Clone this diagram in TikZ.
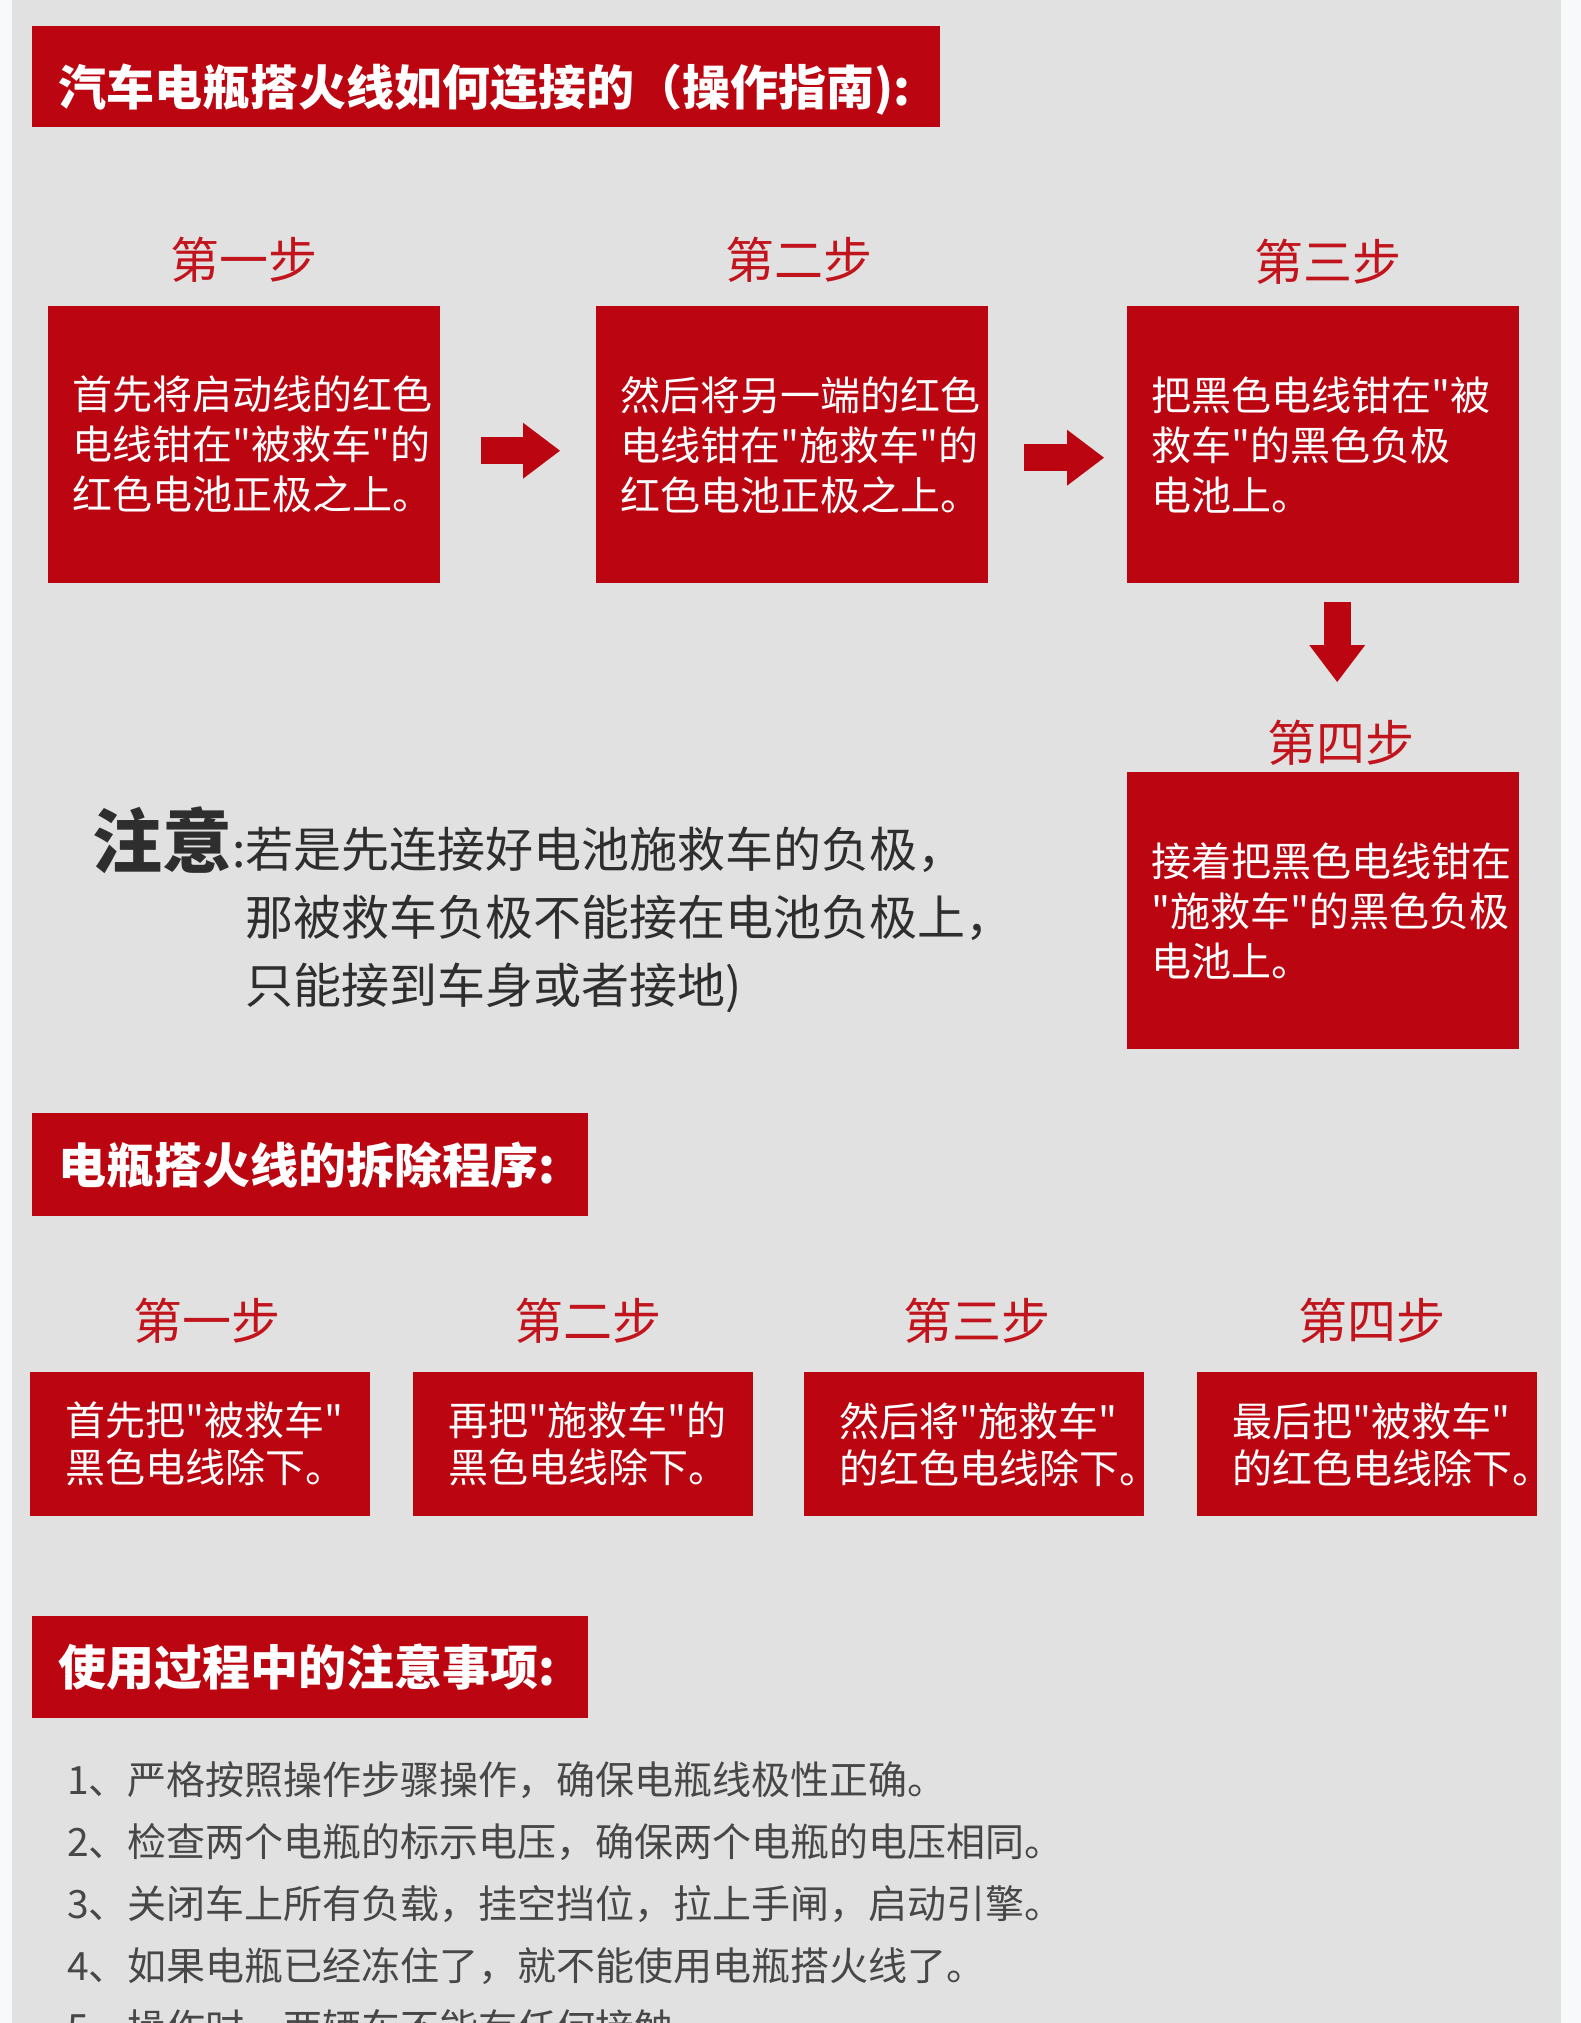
\documentclass[tikz,border=0pt]{standalone}
\usepackage{fontspec}
\setmainfont{Noto Sans CJK SC}[Ligatures=TeXOff]
\usepackage{xcolor}
\usetikzlibrary{arrows.meta,calc}

\definecolor{boxred}{HTML}{BB0612}
\definecolor{labred}{HTML}{C2141C}
\definecolor{bggray}{HTML}{E1E1E1}
\definecolor{edgewhite}{HTML}{F8F9FB}
\definecolor{notegray}{HTML}{2E2E2E}
\definecolor{listgray}{HTML}{474747}

\tikzset{
  titlebox/.style={fill=boxred, text=white, anchor=north west, align=left,
    inner xsep=26pt, font=\fontsize{48}{58}\selectfont\bfseries},
  steplabel/.style={text=labred, font=\fontsize{49}{58}\selectfont},
  conbox/.style={fill=boxred, text=white, anchor=north west, align=left,
    minimum height=277pt, text width=344pt, inner xsep=24pt,
    font=\fontsize{40}{50}\selectfont},
  rembox/.style={fill=boxred, text=white, anchor=north west, align=left,
    minimum height=144pt, text width=270pt, inner xsep=35pt,
    font=\fontsize{40}{47}\selectfont},
  flowarrow/.style={draw=boxred, line width=27pt,
    -{Triangle[length=37pt,width=56pt,line width=0pt]}},
}

\begin{document}
\begin{tikzpicture}[x=1pt,y=-1pt]
  \useasboundingbox (0,0) rectangle (1581,2023);
  \clip (0,0) rectangle (1581,2023);
  \fill[edgewhite] (0,0) rectangle (1581,2023);
  \fill[bggray] (12,0) rectangle (1561,2023);

  % Connecting the jumper cables: four steps.
  \node[titlebox, minimum height=101pt, text width=856pt, inner ysep=0pt,
    text height=64pt, text depth=6pt] (title1) at (32,26)
    {汽车电瓶搭火线如何连接的（操作指南):};

  \node[steplabel] (lab1) at (244,260) {第一步};
  \node[steplabel] (lab2) at (799,260) {第二步};
  \node[steplabel] (lab3) at (1328,262) {第三步};
  \node[steplabel] (lab4) at (1341,743) {第四步};

  \node[conbox] (con1) at (48,306)
    {首先将启动线的红色\\电线钳在"被救车"的\\红色电池正极之上。};
  \node[conbox] (con2) at (596,306)
    {然后将另一端的红色\\电线钳在"施救车"的\\红色电池正极之上。};
  \node[conbox] (con3) at (1127,306)
    {把黑色电线钳在"被\\救车"的黑色负极\\电池上。};
  \node[conbox] (con4) at (1127,772)
    {接着把黑色电线钳在\\"施救车"的黑色负极\\电池上。};

  \draw[flowarrow, shorten <=41pt, shorten >=36pt]
    ([yshift=-6pt]con1.east) -- ([yshift=-6pt]con2.west);
  \draw[flowarrow, shorten <=36pt, shorten >=23pt]
    ([yshift=-13pt]con2.east) -- ([yshift=-13pt]con3.west);
  \draw[flowarrow, shorten <=19pt, shorten >=90pt]
    ([xshift=14pt]con3.south) -- ([xshift=14pt]con4.north);

  % Note beside the last step.
  \node[anchor=base west, text=notegray, inner sep=0pt,
    font=\fontsize{48}{68}\selectfont] (note) at (92,867)
    {{\fontsize{70}{70}\selectfont\bfseries 注意}:\begin{tabular}[t]{@{}l@{}}
      若是先连接好电池施救车的负极，\\
      那被救车负极不能接在电池负极上，\\
      只能接到车身或者接地)
    \end{tabular}};

  % Removing the jumper cables.
  \node[titlebox, minimum height=103pt, text width=504pt] (title2) at (32,1113)
    {电瓶搭火线的拆除程序:};

  \node[steplabel] (rlab1) at (207,1321) {第一步};
  \node[steplabel] (rlab2) at (588,1321) {第二步};
  \node[steplabel] (rlab3) at (977,1321) {第三步};
  \node[steplabel] (rlab4) at (1372,1321) {第四步};

  \node[rembox] (rem1) at (30,1372) {首先把"被救车"\\黑色电线除下。};
  \node[rembox] (rem2) at (413,1372) {再把"施救车"的\\黑色电线除下。};
  \node[rembox] (rem3) at (804,1372) {然后将"施救车"\\的红色电线除下。};
  \node[rembox] (rem4) at (1197,1372) {最后把"被救车"\\的红色电线除下。};

  % Points to watch during use.
  \node[titlebox, minimum height=102pt, text width=504pt] (title3) at (32,1616)
    {使用过程中的注意事项:};

  \node[anchor=base west, text=listgray, inner sep=0pt,
    font=\fontsize{39}{62}\selectfont] (tips) at (67,1794)
    {\begin{tabular}[t]{@{}l@{}}
      1、严格按照操作步骤操作，确保电瓶线极性正确。\\
      2、检查两个电瓶的标示电压，确保两个电瓶的电压相同。\\
      3、关闭车上所有负载，挂空挡位，拉上手闸，启动引擎。\\
      4、如果电瓶已经冻住了，就不能使用电瓶搭火线了。\\
      5、操作时，两辆车不能有任何接触
    \end{tabular}};
\end{tikzpicture}
\end{document}
